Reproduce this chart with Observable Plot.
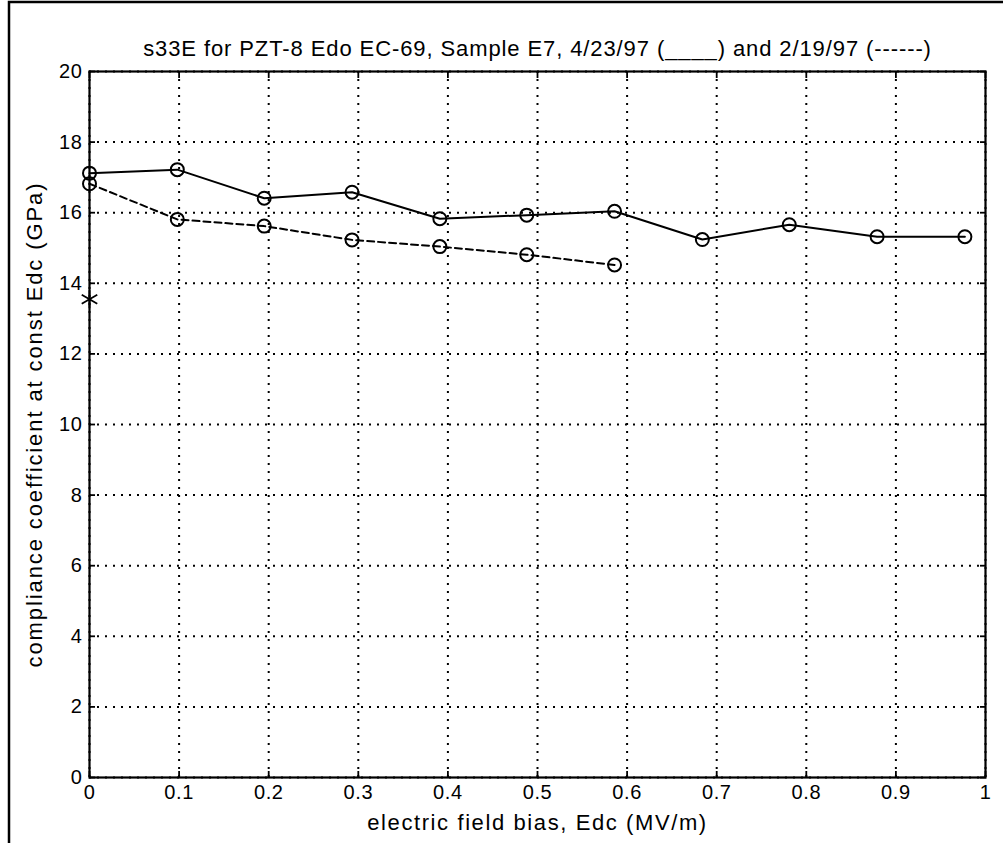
<!DOCTYPE html>
<html>
<head>
<meta charset="utf-8">
<script src="https://cdn.jsdelivr.net/npm/d3@7"></script>
<script src="https://cdn.jsdelivr.net/npm/@observablehq/plot@0.6"></script>
<style>
  html, body { margin: 0; padding: 0; background: #fff; }
  #chart svg { display: block; }
  #chart g[aria-label="x-axis tick label"], #chart g[aria-label="y-axis tick label"] { font-size: 20px; letter-spacing: 0.6px; }
  #chart g[aria-label="x-axis label"] { font-size: 22px; letter-spacing: 1.6px; }
  #chart g[aria-label="y-axis label"] { font-size: 22px; letter-spacing: 1.9px; }
  #chart g[aria-label="text"] { font-size: 22px; letter-spacing: 0.9px; }
</style>
</head>
<body>
<div id="chart"></div>
<script>
// ---- data ----
const titleText = "s33E for PZT-8 Edo EC-69, Sample E7, 4/23/97 (____) and 2/19/97 (------)";
const xLabel = "electric field bias, Edc (MV/m)";
const yLabel = "compliance coefficient at const Edc (GPa)";

const xTicks = [0, 0.1, 0.2, 0.3, 0.4, 0.5, 0.6, 0.7, 0.8, 0.9, 1];
const yTicks = [0, 2, 4, 6, 8, 10, 12, 14, 16, 18, 20];

// 4/23/97 (solid)
const solidX = [0, 0.098, 0.195, 0.293, 0.391, 0.488, 0.586, 0.684, 0.781, 0.879, 0.977];
const solidY = [17.12, 17.22, 16.41, 16.58, 15.83, 15.93, 16.04, 15.24, 15.66, 15.32, 15.32];

// 2/19/97 (dashed)
const dashedX = [0, 0.098, 0.195, 0.293, 0.391, 0.488, 0.586];
const dashedY = [16.82, 15.81, 15.62, 15.23, 15.04, 14.81, 14.52];

// single star marker
const starX = [0];
const starY = [13.55];

const solid = solidX.map((x, i) => ({x, y: solidY[i]}));
const dashed = dashedX.map((x, i) => ({x, y: dashedY[i]}));
const star = starX.map((x, i) => ({x, y: starY[i]}));

const font = "'Liberation Sans', Arial, Helvetica, sans-serif";

const chart = Plot.plot({
  width: 1003,
  height: 843,
  marginLeft: 89,
  marginRight: 18,
  marginTop: 71,
  marginBottom: 66,
  style: {fontFamily: font, fontSize: "20px", color: "black", background: "white", overflow: "visible"},
  x: {domain: [0, 1]},
  y: {domain: [0, 20]},
  marks: [
    Plot.gridX(xTicks, {stroke: "black", strokeOpacity: 1, strokeWidth: 2, strokeDasharray: "2,6"}),
    Plot.gridY(yTicks, {stroke: "black", strokeOpacity: 1, strokeWidth: 2, strokeDasharray: "2,6"}),
    Plot.frame({stroke: "black", strokeWidth: 2.2}),
    // inward ticks on all four sides
    Plot.axisX(xTicks, {anchor: "bottom", tickSize: -6, tickFormat: () => "", label: null, strokeWidth: 1.8}),
    Plot.axisX(xTicks, {anchor: "top", tickSize: -6, tickFormat: () => "", label: null, strokeWidth: 1.8}),
    Plot.axisY(yTicks, {anchor: "left", tickSize: -6, tickFormat: () => "", label: null, strokeWidth: 1.8}),
    Plot.axisY(yTicks, {anchor: "right", tickSize: -6, tickFormat: () => "", label: null, strokeWidth: 1.8}),
    // tick labels and axis titles
    Plot.axisX(xTicks, {anchor: "bottom", tickSize: 0, tickPadding: 7, tickFormat: d => String(d),
      label: xLabel, labelAnchor: "center", labelArrow: "none", labelOffset: 52}),
    Plot.axisY(yTicks, {anchor: "left", tickSize: 0, tickPadding: 7, tickFormat: d => String(d),
      label: yLabel, labelAnchor: "center", labelArrow: "none", labelOffset: 63}),
    // data
    Plot.line(solid, {x: "x", y: "y", stroke: "black", strokeWidth: 2}),
    Plot.line(dashed, {x: "x", y: "y", stroke: "black", strokeWidth: 2, strokeDasharray: "7,4"}),
    Plot.dot(solid, {x: "x", y: "y", r: 6.5, stroke: "black", fill: "none", strokeWidth: 2}),
    Plot.dot(dashed, {x: "x", y: "y", r: 6.5, stroke: "black", fill: "none", strokeWidth: 2}),
    Plot.dot(star, {x: "x", y: "y", r: 8.5, symbol: "asterisk", stroke: "black", strokeWidth: 1.8}),
    // title
    Plot.text([titleText], {frameAnchor: "top", dy: -31, fill: "black"})
  ]
});

// figure border (scanned page edge: left and top lines)
const svg = d3.select(chart);
svg.append("path")
  .attr("d", "M9,843V2H1003")
  .attr("fill", "none")
  .attr("stroke", "black")
  .attr("stroke-width", 2.5);

document.getElementById("chart").appendChild(chart);
</script>
</body>
</html>
